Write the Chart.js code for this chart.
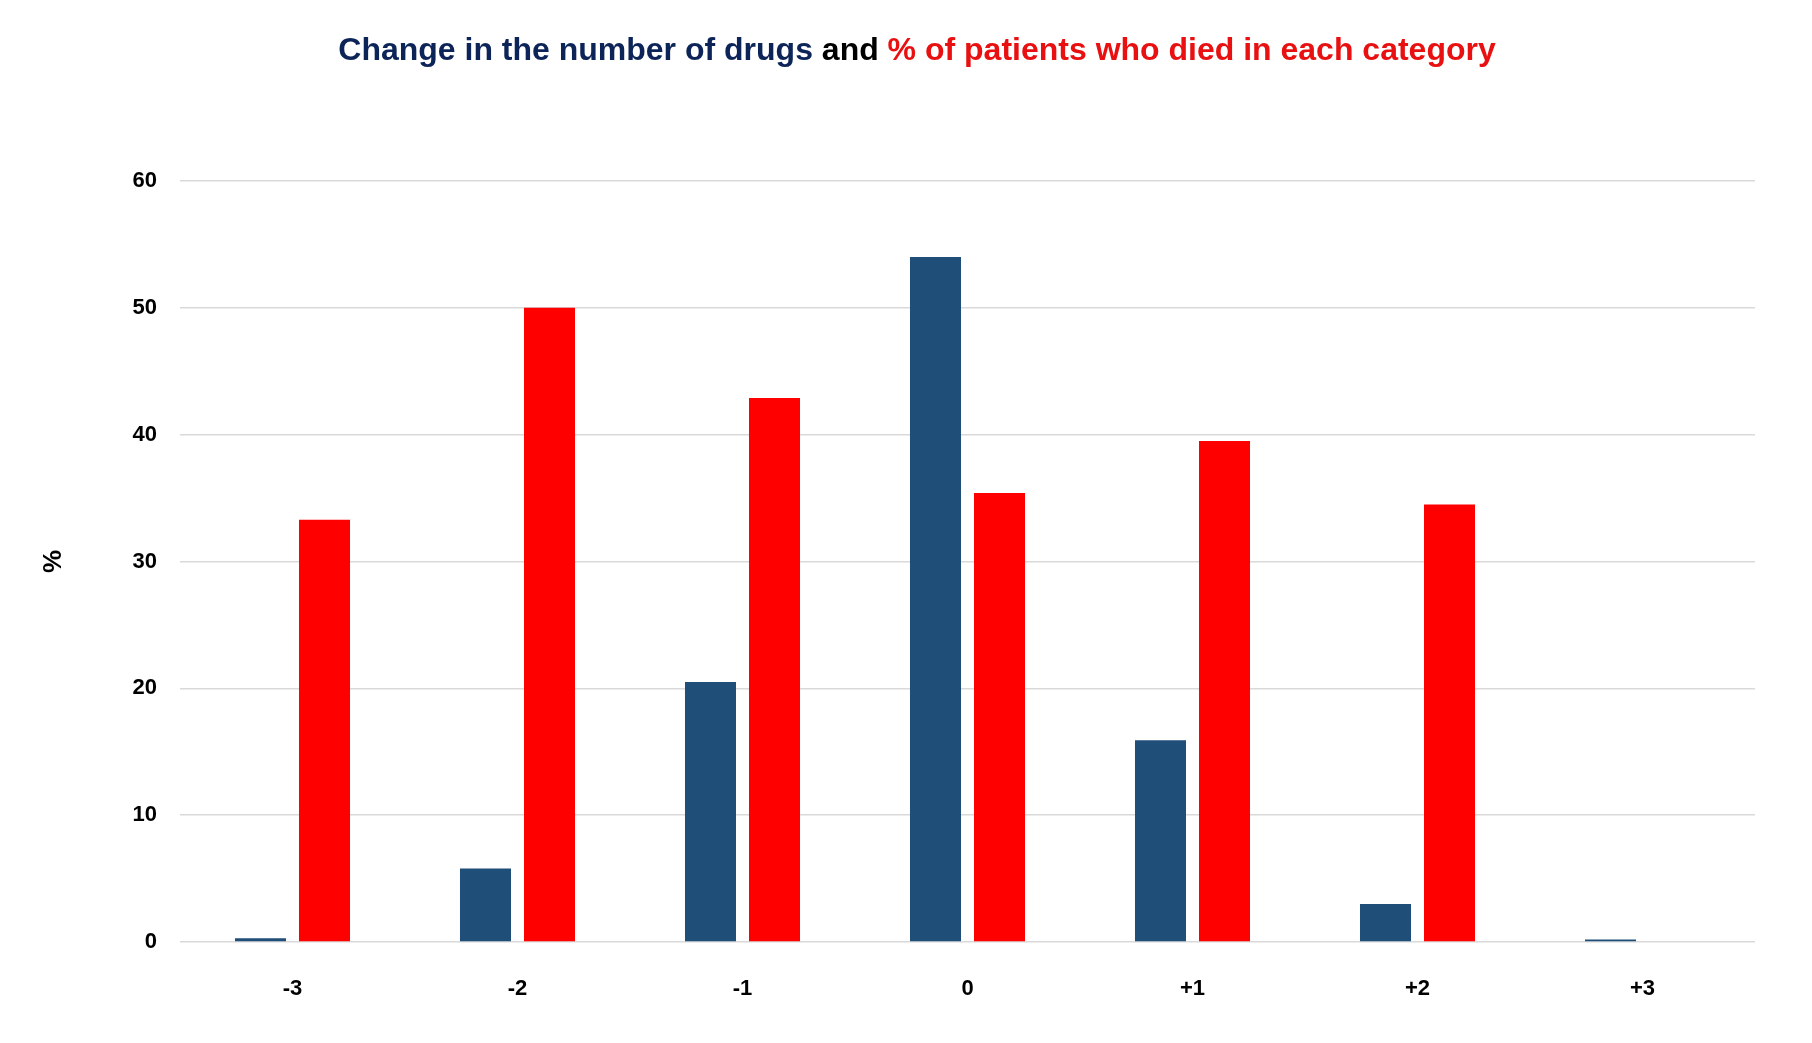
<!DOCTYPE html>
<html>
<head>
<meta charset="utf-8">
<script src="https://cdn.jsdelivr.net/npm/chart.js@4/dist/chart.umd.min.js"></script>
<style>
  html, body { margin: 0; padding: 0; background: #ffffff; }
  #wrap { position: relative; width: 1812px; height: 1043px; }
  #title {
    position: absolute; top: 33px; left: 917px; transform: translateX(-50%);
    white-space: nowrap; font-family: "Liberation Sans", Arial, sans-serif;
    font-weight: bold; font-size: 32px; line-height: 32px;
  }
  #title .a { color: #0c2457; }
  #title .b { color: #000000; }
  #title .c { color: #e81010; }
  canvas { position: absolute; left: 0; top: 0; }
</style>
</head>
<body>
<div id="wrap">
  <canvas id="chart" width="1812" height="1043"></canvas>
  <div id="title"><span class="a">Change in the number of drugs</span> <span class="b">and</span> <span class="c">% of patients who died in each category</span></div>
</div>
<script>
const categories = ["-3", "-2", "-1", "0", "+1", "+2", "+3"];
const drugChangeShare = [0.3, 5.8, 20.5, 54.0, 15.9, 3.0, 0.2];
const patientsDied = [33.3, 50.0, 42.9, 35.4, 39.5, 34.5, 0];
const yTicks = [0, 10, 20, 30, 40, 50, 60];

const tickFont = { family: "'Liberation Sans', Arial, sans-serif", size: 22, weight: 'bold' };

new Chart(document.getElementById('chart'), {
  type: 'bar',
  data: {
    labels: categories,
    datasets: [
      { label: 'Change in the number of drugs', data: drugChangeShare, backgroundColor: '#1f4e79',
        categoryPercentage: 0.569, barPercentage: 0.797 },
      { label: '% of patients who died in each category', data: patientsDied, backgroundColor: '#ff0000',
        categoryPercentage: 0.569, barPercentage: 0.797 }
    ]
  },
  options: {
    responsive: false,
    animation: false,
    devicePixelRatio: 1,
    layout: { padding: { top: 181, right: 57, left: 38, bottom: 0 } },
    plugins: { legend: { display: false }, title: { display: false }, tooltip: { enabled: false } },
    scales: {
      x: {
        offset: true,
        grid: { display: false, drawTicks: false },
        border: { display: false },
        ticks: { color: '#000000', font: tickFont, padding: 34, maxRotation: 0 },
        afterFit: (s) => { s.height = 1043 - 942; }
      },
      y: {
        min: 0, max: 60,
        afterBuildTicks: (s) => { s.ticks = yTicks.map(v => ({ value: v })); },
        grid: { color: '#d9d9d9', lineWidth: 1.5, drawTicks: false },
        border: { display: false },
        ticks: { color: '#000000', font: tickFont, padding: 23 },
        title: { display: true, text: '%', color: '#000000',
                 font: { family: "'Liberation Sans', Arial, sans-serif", size: 26, weight: 'bold' },
                 padding: { top: 0, bottom: 0 } },
        afterFit: (s) => { s.width = 180 - 38; }
      }
    }
  }
});
</script>
</body>
</html>
